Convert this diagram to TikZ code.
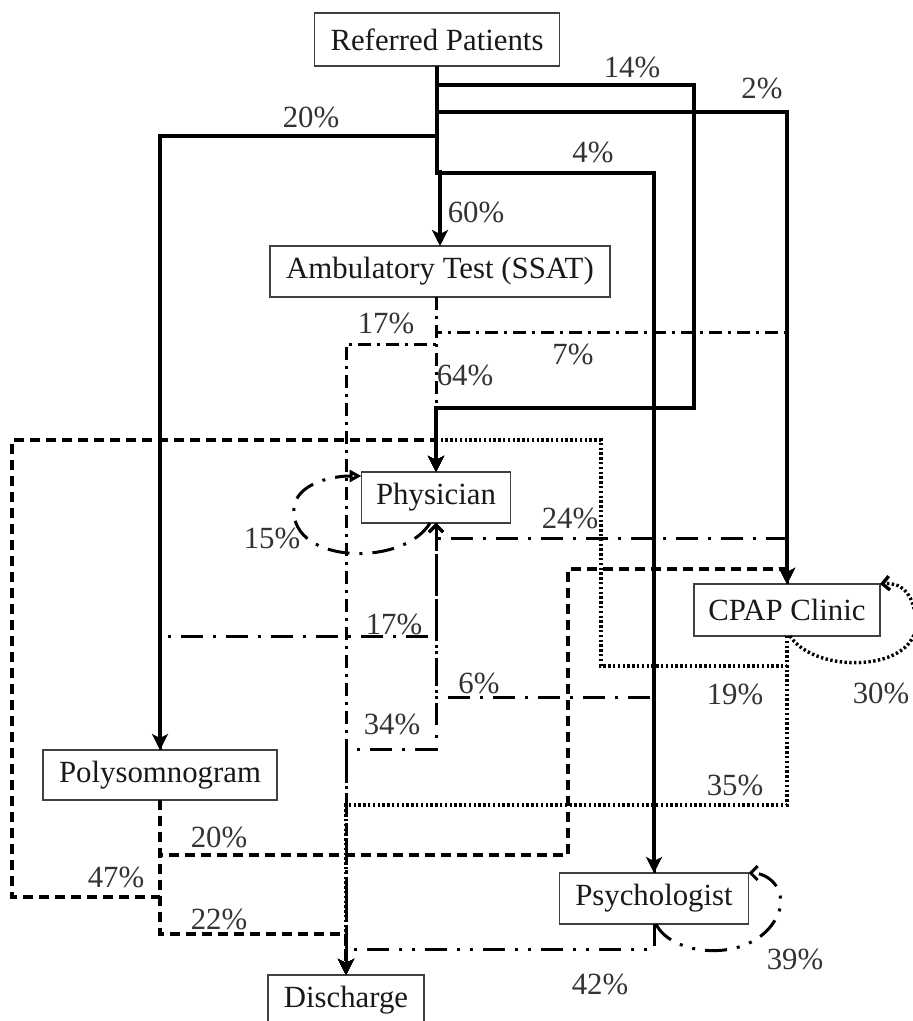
\documentclass[tikz,border=0pt]{standalone}
\usepackage{fontspec}
\setmainfont{Liberation Serif}
\usetikzlibrary{arrows.meta}
\begin{document}
\begin{tikzpicture}[x=0.5pt,y=-0.5pt,
  box/.style={draw=black!75, line width=0.8pt, fill=white, inner sep=0pt, outer sep=0pt,
    font=\fontsize{15.4}{18}\selectfont, text=black!90},
  lbl/.style={inner sep=0pt, font=\fontsize{15.4}{18}\selectfont, text=black!80},
  flow/.style={line width=1.5pt, line join=miter},
  solidflow/.style={flow, line width=1.7pt},
  ddA/.style={flow, dash pattern=on 6.5pt off 3pt on 1.5pt off 3pt},
  ddB/.style={flow, dash pattern=on 11pt off 5pt on 1.5pt off 5pt},
  ddd/.style={flow, dash pattern=on 11pt off 5pt on 1.5pt off 5pt on 1.5pt off 5pt},
  dsh/.style={flow, line width=1.6pt, dash pattern=on 5pt off 3pt},
  dtt/.style={flow, line width=1.7pt, dash pattern=on 1.2pt off 1.2pt},
  tip/.style={-{Stealth[length=8pt,width=8pt,inset=2pt]}},
  barb/.style={-{Straight Barb[length=3.5pt,width=7pt]}},
]
\useasboundingbox (0,0) rectangle (912,1021);

% boxes
\node[box, minimum width=122.5pt, minimum height=26.5pt] (ref)  at (437,39.5)   {Referred Patients};
\node[box, minimum width=170pt,   minimum height=25.5pt] (amb)  at (440,271.5)  {Ambulatory Test (SSAT)};
\node[box, minimum width=74.5pt,  minimum height=25.5pt] (phys) at (436,497.5)  {Physician};
\node[box, minimum width=93pt,    minimum height=26pt]   (cpap) at (787,610)    {CPAP Clinic};
\node[box, minimum width=117pt,   minimum height=25pt]   (poly) at (160,775)    {Polysomnogram};
\node[box, minimum width=94.5pt,  minimum height=25.5pt] (psy)  at (654,898.5)  {Psychologist};
\node[box, minimum width=78pt,    minimum height=25.5pt] (dis)  at (346,1000.5) {Discharge};

% Ambulatory test flows
\draw[ddA,tip] (phys.north |- amb.south) -- (phys.north);
\draw[ddA,tip] (phys.north |- amb.south) |- (dis.north |- 0,344) -- (dis.north);
\draw[ddA,tip] (phys.north |- amb.south) |- (cpap.north |- 0,332) -- (cpap.north);

% Physician flows
\draw[ddB,barb] (cpap.north) |- (phys.south |- 0,538) -- (phys.south);
\draw[ddB,barb] (poly.north) |- (phys.south |- 0,636) -- (phys.south);
\draw[ddB,barb] (psy.north) |- (phys.south |- 0,697) -- (phys.south);
\draw[ddB,tip] (phys.south) |- (dis.north |- 0,749) -- (dis.north);
\draw[ddB,-{Triangle[open,length=6pt,width=6pt]}] ([xshift=-3pt]phys.south)
  .. controls (405,565) and (300,565) .. (294,515)
  .. controls (290,485) and (330,476) .. ([yshift=-2pt]phys.north west);

% CPAP clinic flows
\draw[dtt,tip] (cpap.south) |- (601,666) |- (phys.north |- 0,440) -- (phys.north);
\draw[dtt,tip] (cpap.south) |- (dis.north |- 0,805) -- (dis.north);
\draw[dtt,barb] ([xshift=1.5pt]cpap.south)
  .. controls (815,675) and (918,672) .. (916,622)
  .. controls (914,592) and (900,582) .. (cpap.north east);

% Polysomnogram flows
\draw[dsh,tip] (poly.south) |- (12,897) |- (phys.north |- 0,440) -- (phys.north);
\draw[dsh,tip] (poly.south) |- (568,855) |- (cpap.north |- 0,569) -- (cpap.north);
\draw[dsh,tip] (poly.south) |- (dis.north |- 0,934) -- (dis.north);

% Psychologist flows
\draw[ddd,tip] (psy.south) |- (dis.north |- 0,949) -- (dis.north);
\draw[ddd,barb] ([xshift=1pt]psy.south)
  .. controls (672,958) and (758,965) .. (779,912)
  .. controls (786,890) and (770,873) .. (psy.north east);

% Referred patients flows
\draw[solidflow,tip] (ref.south) |- (poly.north |- 0,136) -- (poly.north);
\draw[solidflow,tip] (ref.south) |- (694,85) |- (phys.north |- 0,408) -- (phys.north);
\draw[solidflow,tip] (ref.south) |- (cpap.north |- 0,112) -- (cpap.north);
\draw[solidflow,tip] (ref.south) |- (psy.north |- 0,173) -- (psy.north);
\draw[solidflow,tip] (ref.south) -- (ref.south |- 0,172) -- (amb.north |- 0,172) -- (amb.north);

% labels
\node[lbl] (l20a) at (311,117) {20\%};
\node[lbl] (l14)  at (632,67)  {14\%};
\node[lbl] (l2)   at (762,88)  {2\%};
\node[lbl] (l4)   at (593,152) {4\%};
\node[lbl] (l60)  at (476,212) {60\%};
\node[lbl] (l17a) at (386,323) {17\%};
\node[lbl] (l7)   at (573,354) {7\%};
\node[lbl] (l64)  at (465,375) {64\%};
\node[lbl] (l15)  at (272,538) {15\%};
\node[lbl] (l24)  at (570,518) {24\%};
\node[lbl] (l17b) at (394,624) {17\%};
\node[lbl] (l6)   at (479,683) {6\%};
\node[lbl] (l34)  at (392,724) {34\%};
\node[lbl] (l19)  at (735,694) {19\%};
\node[lbl] (l30)  at (881,693) {30\%};
\node[lbl] (l35)  at (735,785) {35\%};
\node[lbl] (l20b) at (219,837) {20\%};
\node[lbl] (l47)  at (116,877) {47\%};
\node[lbl] (l22)  at (219,919) {22\%};
\node[lbl] (l39)  at (795,959) {39\%};
\node[lbl] (l42)  at (600,984) {42\%};
\end{tikzpicture}
\end{document}
